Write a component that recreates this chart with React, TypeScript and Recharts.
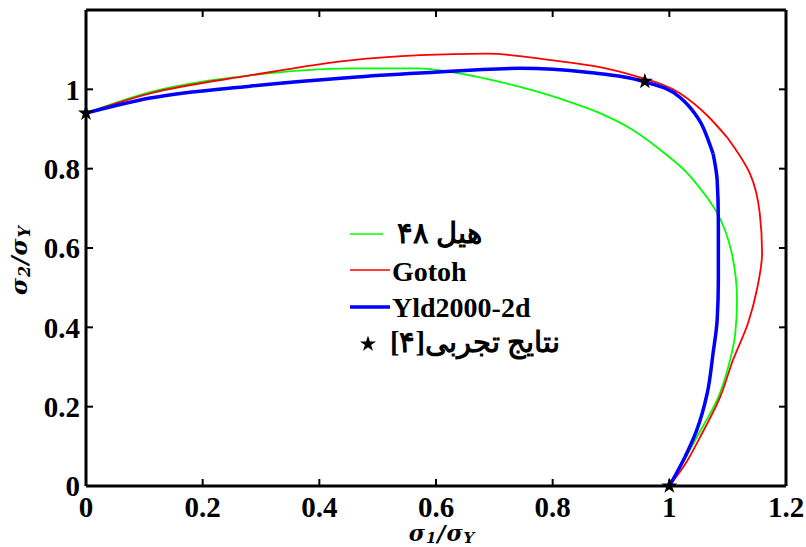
import {
  ComposedChart,
  Legend,
  Line,
  Scatter,
  Symbols,
  XAxis,
  YAxis,
} from "recharts";

// yield loci (sigma1/sigmaY, sigma2/sigmaY)
// each locus is drawn in two parts: the upper branch (x rising) and the
// right branch (y falling), so monotone curves can be used on both
const hill48Upper = [
  { x: 0, y: 0.94 },
  { x: 0.11, y: 0.993 },
  { x: 0.281, y: 1.035 },
  { x: 0.453, y: 1.053 },
  { x: 0.567, y: 1.053 },
  { x: 0.629, y: 1.043 },
  { x: 0.744, y: 1.006 },
  { x: 0.83, y: 0.968 },
  { x: 0.881, y: 0.94 },
  { x: 0.938, y: 0.897 },
  { x: 0.995, y: 0.835 },
  { x: 1.03, y: 0.79 },
  { x: 1.064, y: 0.729 },
];
const hill48Right = [
  { x: 1.064, y: 0.729 },
  { x: 1.082, y: 0.688 },
  { x: 1.107, y: 0.587 },
  { x: 1.116, y: 0.469 },
  { x: 1.113, y: 0.385 },
  { x: 1.101, y: 0.3 },
  { x: 1.084, y: 0.224 },
  { x: 1.047, y: 0.123 },
  { x: 1.02, y: 0.05 },
  { x: 1, y: 0 },
];

const gotohUpper = [
  { x: 0, y: 0.94 },
  { x: 0.11, y: 0.99 },
  { x: 0.281, y: 1.035 },
  { x: 0.453, y: 1.073 },
  { x: 0.573, y: 1.086 },
  { x: 0.687, y: 1.09 },
  { x: 0.801, y: 1.073 },
  { x: 0.881, y: 1.056 },
  { x: 0.938, y: 1.035 },
  { x: 1.018, y: 0.99 },
  { x: 1.065, y: 0.934 },
  { x: 1.099, y: 0.879 },
];
const gotohRight = [
  { x: 1.099, y: 0.879 },
  { x: 1.138, y: 0.788 },
  { x: 1.155, y: 0.688 },
  { x: 1.159, y: 0.587 },
  { x: 1.15, y: 0.494 },
  { x: 1.135, y: 0.411 },
  { x: 1.109, y: 0.317 },
  { x: 1.087, y: 0.224 },
  { x: 1.053, y: 0.124 },
  { x: 1.024, y: 0.048 },
  { x: 1, y: 0 },
];

const yldUpper = [
  { x: 0, y: 0.94 },
  { x: 0.11, y: 0.978 },
  { x: 0.281, y: 1.008 },
  { x: 0.453, y: 1.03 },
  { x: 0.573, y: 1.041 },
  { x: 0.744, y: 1.053 },
  { x: 0.859, y: 1.043 },
  { x: 0.955, y: 1.02 },
  { x: 1.018, y: 0.98 },
  { x: 1.035, y: 0.955 },
  { x: 1.058, y: 0.904 },
  { x: 1.075, y: 0.838 },
];
const yldRight = [
  { x: 1.075, y: 0.838 },
  { x: 1.082, y: 0.771 },
  { x: 1.084, y: 0.67 },
  { x: 1.084, y: 0.519 },
  { x: 1.082, y: 0.418 },
  { x: 1.075, y: 0.335 },
  { x: 1.065, y: 0.234 },
  { x: 1.047, y: 0.141 },
  { x: 1.024, y: 0.065 },
  { x: 1, y: 0 },
];

// experimental points [4]
const experiments = [
  { x: 0, y: 0.94 },
  { x: 0.958, y: 1.02 },
  { x: 1, y: 0 },
];

const xTicks = [0, 0.2, 0.4, 0.6, 0.8, 1, 1.2];
const yTicks = [0, 0.2, 0.4, 0.6, 0.8, 1];

const serif = "'Liberation Serif', 'Times New Roman', serif";
const mathFont = "'DejaVu Serif', serif";
const tickFont = { fill: "#000", fontSize: 29, fontWeight: 700, fontFamily: serif };
const frame = { stroke: "#000", strokeWidth: 3 };
const tickMark = { stroke: "#000", strokeWidth: 2 };
const blank = () => "";

const Star = (props: any) => (
  <Symbols cx={props.cx} cy={props.cy} type="star" size={80} fill="#000" />
);

const XTitle = () => (
  <text x={442} y={541} textAnchor="middle" fontFamily={mathFont} fontWeight={700} fontStyle="italic" fontSize={22} letterSpacing={1} fill="#000">
    <tspan>σ</tspan>
    <tspan fontSize={15} dy={2}>1</tspan>
    <tspan dy={-2}>/σ</tspan>
    <tspan fontSize={15} dy={2}>Y</tspan>
  </text>
);

const YTitle = () => (
  <text x={27} y={260} transform="rotate(-90, 27, 260)" textAnchor="middle" fontFamily={mathFont} fontWeight={700} fontStyle="italic" fontSize={23} letterSpacing={1} fill="#000">
    <tspan>σ</tspan>
    <tspan fontSize={16} dy={3}>2</tspan>
    <tspan dy={-3}>/σ</tspan>
    <tspan fontSize={16} dy={3}>Y</tspan>
  </text>
);

const LegendBox = () => (
  <svg width={260} height={150} style={{ overflow: "visible" }}>
    <g fontFamily={serif} fontWeight={700} fontSize={28} fill="#000">
      <line x1={10} x2={43} y1={19} y2={19} stroke="#00ff00" strokeWidth={1.5} />
      <text x={142} y={28} direction="rtl" textAnchor="start" fontSize={28.5}>
        هیل ۴۸
      </text>

      <line x1={10} x2={50} y1={55} y2={55} stroke="#ff0000" strokeWidth={1.5} />
      <text x={52} y={66}>Gotoh</text>

      <line x1={10} x2={50} y1={92} y2={92} stroke="#0000ff" strokeWidth={3.5} />
      <text x={52} y={102}>Yld2000-2d</text>

      <Symbols cx={28} cy={129} type="star" size={80} fill="#000" />
      <text x={220} y={137} direction="rtl" textAnchor="start" fontSize={28.5}>
        نتایج تجربی[۴]
      </text>
    </g>
  </svg>
);

export default function App() {
  const lineProps = { dataKey: "y", dot: false, isAnimationActive: false };
  return (
    <div style={{ position: "absolute", left: 0, top: 0, background: "#fff" }}>
      <ComposedChart
        width={806}
        height={547}
        margin={{ top: 9, right: 19, bottom: 0, left: 10 }}
      >
        <XAxis
          type="number"
          dataKey="x"
          domain={[0, 1.2]}
          ticks={xTicks}
          height={61}
          tickSize={-7}
          tickMargin={17}
          tick={tickFont}
          axisLine={frame}
          tickLine={tickMark}
          label={<XTitle />}
        />
        {/* mirrored top / right axes close the box frame */}
        <XAxis
          xAxisId="top"
          orientation="top"
          type="number"
          dataKey="x"
          domain={[0, 1.2]}
          ticks={xTicks}
          height={1}
          tickSize={-7}
          tickFormatter={blank}
          axisLine={frame}
          tickLine={tickMark}
        />
        <YAxis
          type="number"
          dataKey="y"
          domain={[0, 1.2]}
          ticks={yTicks}
          width={76}
          tickSize={-7}
          tickMargin={13}
          tick={tickFont}
          axisLine={frame}
          tickLine={tickMark}
          label={<YTitle />}
        />
        <YAxis
          yAxisId="right"
          orientation="right"
          type="number"
          dataKey="y"
          domain={[0, 1.2]}
          ticks={yTicks}
          width={1}
          tickSize={-7}
          tickFormatter={blank}
          axisLine={frame}
          tickLine={tickMark}
        />

        <Line {...lineProps} data={hill48Upper} type="monotoneX" stroke="#00ff00" strokeWidth={1.8} />
        <Line {...lineProps} data={hill48Right} type="monotoneY" stroke="#00ff00" strokeWidth={1.8} />
        <Line {...lineProps} data={gotohUpper} type="monotoneX" stroke="#ff0000" strokeWidth={1.8} />
        <Line {...lineProps} data={gotohRight} type="monotoneY" stroke="#ff0000" strokeWidth={1.8} />
        <Line {...lineProps} data={yldUpper} type="monotoneX" stroke="#0000ff" strokeWidth={3.5} />
        <Line {...lineProps} data={yldRight} type="monotoneY" stroke="#0000ff" strokeWidth={3.5} />
        <Scatter
          xAxisId="top"
          yAxisId="right"
          data={experiments}
          dataKey="y"
          shape={<Star />}
          isAnimationActive={false}
        />

        <Legend
          layout="horizontal"
          verticalAlign="middle"
          align="center"
          content={<LegendBox />}
          wrapperStyle={{ left: 340, top: 215, width: 260, height: 150, bottom: "auto" }}
        />
      </ComposedChart>
    </div>
  );
}
